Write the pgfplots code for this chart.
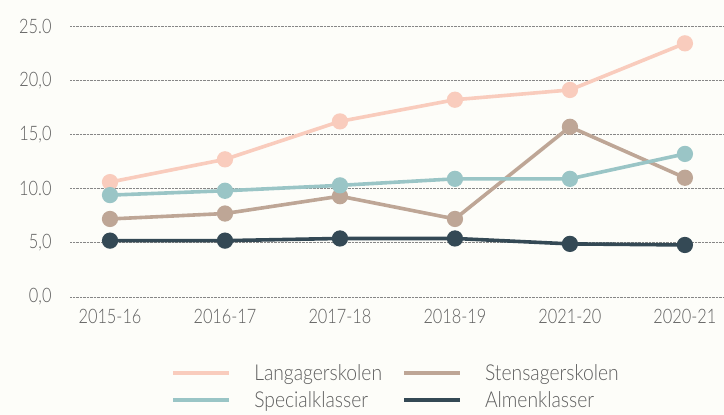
\documentclass[border=0pt]{standalone}
\usepackage{pgfplots}
\pgfplotsset{compat=1.18}
\usepackage{fontspec}
\setmainfont[FakeStretch=0.82]{Lato Light}
\newfontfamily\legfont[FakeStretch=0.88]{Lato Light}
\definecolor{bg}{HTML}{FDFDF9}
\definecolor{txt}{HTML}{5E5E5E}
\definecolor{cLang}{HTML}{F9CCBD}
\definecolor{cSten}{HTML}{BEA696}
\definecolor{cSpec}{HTML}{9AC5C6}
\definecolor{cAlm}{HTML}{344955}
\begin{document}
\begin{tikzpicture}
\fill[bg] (-70bp,-118bp) rectangle (654bp,297bp);
\begin{axis}[
  at={(0,0)}, anchor=south west,
  scale only axis, width=654bp, height=271bp,
  xmin=-0.348, xmax=5.34, ymin=0, ymax=25,
  axis line style={draw=none}, tick style={draw=none},
  xtick={0,1,2,3,4,5},
  xticklabels={2015-16,2016-17,2017-18,2018-19,2021-20,2020-21},
  ytick={0,5,10,15,20,25},
  yticklabels={{0,0},{5,0},{10.0},{15,0},{20,0},{25.0}},
  ymajorgrids, grid style={densely dotted, line width=0.9bp, gray!95},
  x tick label style={font=\fontsize{20}{20}\selectfont, text=txt, yshift=-9bp},
  y tick label style={font=\fontsize{20}{20}\selectfont, text=txt, xshift=-15bp},
  every axis plot/.append style={line width=3.6bp, mark=*, mark size=6.3bp},
  legend columns=2,
  legend style={draw=none, fill=none, at={(0.150,-0.240)}, anchor=north west,
    font=\legfont\fontsize{22}{22}\selectfont, text=txt,
    nodes={inner sep=0pt},
    /tikz/every odd column/.append style={column sep=0bp},
    /tikz/every even column/.append style={column sep=20bp},
    row sep=10bp},
  legend cell align=left,
  legend image code/.code={\draw[#1, mark=none, line width=4bp] (0bp,0bp) -- (56bp,0bp);},
]
\addplot[color=cLang, mark options={fill=cLang}] coordinates {(0,10.6) (1,12.7) (2,16.2) (3,18.2) (4,19.1) (5,23.4)};
\addlegendentry{\hspace{23bp}Langagerskolen}
\addplot[color=cSten, mark options={fill=cSten}] coordinates {(0,7.2) (1,7.7) (2,9.3) (3,7.2) (4,15.7) (5,11.0)};
\addlegendentry{\hspace{23bp}Stensagerskolen}
\addplot[color=cSpec, mark options={fill=cSpec}] coordinates {(0,9.4) (1,9.8) (2,10.3) (3,10.9) (4,10.9) (5,13.2)};
\addlegendentry{\hspace{23bp}Specialklasser}
\addplot[color=cAlm, mark options={fill=cAlm}] coordinates {(0,5.2) (1,5.2) (2,5.4) (3,5.4) (4,4.9) (5,4.8)};
\addlegendentry{\hspace{23bp}Almenklasser}
\end{axis}
\pgfresetboundingbox
\path[use as bounding box] (-70bp,-118bp) rectangle (654bp,297bp);
\end{tikzpicture}
\end{document}
